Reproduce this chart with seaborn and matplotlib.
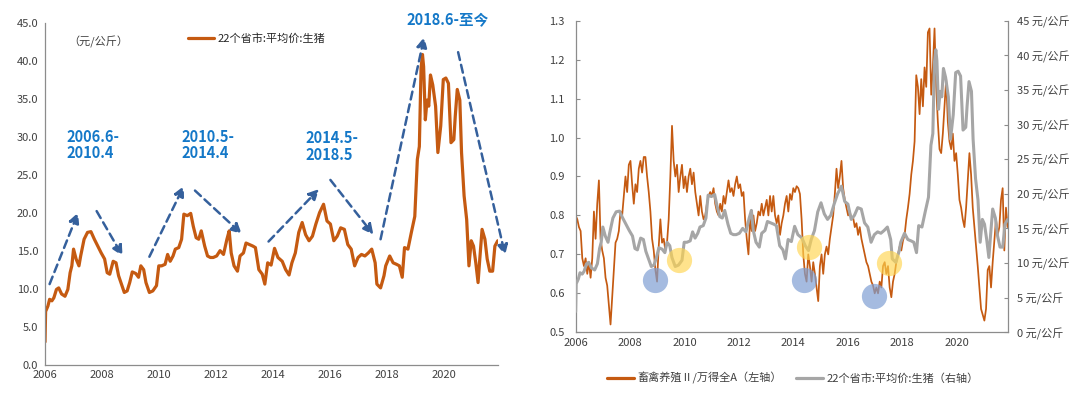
import numpy as np
import pandas as pd
import matplotlib
matplotlib.use("Agg")
import matplotlib.pyplot as plt
import seaborn as sns

# 22个省市:平均价:生猪 (元/公斤)
pig_year = [2006.00, 2006.02, 2006.10, 2006.16, 2006.24, 2006.31, 2006.40, 2006.48, 2006.58, 2006.70,
            2006.80, 2006.88, 2006.94, 2007.00, 2007.09, 2007.19, 2007.25, 2007.37, 2007.49, 2007.61,
            2007.73, 2007.85, 2007.97, 2008.09, 2008.18, 2008.27, 2008.39, 2008.49, 2008.58, 2008.70,
            2008.78, 2008.88, 2008.97, 2009.06, 2009.18, 2009.28, 2009.36, 2009.46, 2009.54, 2009.66,
            2009.78, 2009.91, 2009.99, 2010.09, 2010.21, 2010.30, 2010.39, 2010.49, 2010.57, 2010.69,
            2010.79, 2010.87, 2010.99, 2011.11, 2011.20, 2011.30, 2011.39, 2011.48, 2011.60, 2011.70,
            2011.80, 2011.90, 2012.02, 2012.14, 2012.26, 2012.38, 2012.46, 2012.53, 2012.63, 2012.75,
            2012.84, 2012.96, 2013.05, 2013.17, 2013.29, 2013.38, 2013.50, 2013.62, 2013.71, 2013.81,
            2013.93, 2014.05, 2014.17, 2014.32, 2014.44, 2014.56, 2014.66, 2014.78, 2014.90, 2015.02,
            2015.14, 2015.26, 2015.38, 2015.50, 2015.63, 2015.77, 2015.89, 2016.01, 2016.13, 2016.25,
            2016.37, 2016.50, 2016.62, 2016.74, 2016.86, 2016.98, 2017.10, 2017.22, 2017.34, 2017.46,
            2017.58, 2017.64, 2017.77, 2017.89, 2017.95, 2018.09, 2018.21, 2018.33, 2018.43, 2018.53,
            2018.61, 2018.73, 2018.85, 2018.97, 2019.06, 2019.13, 2019.19, 2019.24, 2019.28, 2019.34,
            2019.40, 2019.46, 2019.52, 2019.60, 2019.70, 2019.78, 2019.88, 2019.97, 2020.06, 2020.15,
            2020.24, 2020.34, 2020.39, 2020.46, 2020.55, 2020.61, 2020.70, 2020.79, 2020.87, 2020.95,
            2021.03, 2021.11, 2021.19, 2021.25, 2021.33, 2021.43, 2021.51, 2021.60, 2021.70, 2021.78,
            2021.88]
pig_price = [3.0, 7.0, 7.7, 8.6, 8.4, 8.8, 9.9, 10.1, 9.3, 9.0,
             9.9, 12.1, 13.0, 15.2, 13.9, 13.0, 14.3, 16.5, 17.4, 17.5,
             16.5, 15.6, 14.7, 13.9, 12.1, 11.9, 13.6, 13.4, 11.7, 10.4,
             9.5, 9.7, 10.8, 12.2, 12.0, 11.5, 13.0, 12.5, 10.8, 9.5,
             9.7, 10.4, 13.0, 13.0, 13.2, 14.5, 13.6, 14.3, 15.2, 15.4,
             16.5, 19.8, 19.6, 19.9, 18.2, 16.7, 16.5, 17.6, 15.6, 14.3,
             14.1, 14.1, 14.3, 15.0, 14.5, 16.5, 17.6, 14.7, 13.0, 12.3,
             14.3, 14.7, 16.0, 15.8, 15.6, 15.4, 12.5, 11.9, 10.6, 13.4,
             13.1, 15.3, 14.1, 13.6, 12.5, 11.8, 13.4, 14.7, 17.4, 18.7,
             17.1, 16.3, 16.9, 18.5, 20.0, 21.1, 18.9, 18.5, 16.3, 16.9,
             18.0, 17.8, 15.8, 15.2, 13.0, 14.1, 14.5, 14.3, 14.7, 15.2,
             13.4, 10.6, 10.1, 11.7, 13.0, 14.3, 13.4, 13.2, 13.0, 11.5,
             15.4, 15.2, 17.4, 19.5, 27.0, 28.7, 39.0, 40.8, 39.2, 32.2,
             34.8, 34.0, 38.1, 36.8, 34.0, 27.9, 31.4, 37.5, 37.7, 37.0,
             29.2, 29.6, 32.7, 36.2, 34.8, 27.9, 22.2, 19.1, 13.0, 16.3,
             15.6, 13.4, 10.8, 13.9, 17.8, 16.5, 13.9, 12.3, 12.3, 15.6,
             16.3]

# 畜禽养殖Ⅱ/万得全A, sampled about every 22 days from 2006 to late 2021
ratio_vals = [0.80, 0.79, 0.77, 0.76, 0.69, 0.67, 0.69, 0.65, 0.68, 0.64,
              0.69, 0.81, 0.74, 0.83, 0.89, 0.74, 0.71, 0.69, 0.64, 0.62,
              0.57, 0.52, 0.59, 0.66, 0.73, 0.74, 0.76, 0.81, 0.80, 0.85,
              0.90, 0.86, 0.93, 0.94, 0.88, 0.83, 0.88, 0.86, 0.92, 0.94,
              0.91, 0.95, 0.95, 0.90, 0.86, 0.81, 0.74, 0.71, 0.66, 0.63,
              0.72, 0.79, 0.73, 0.74, 0.71, 0.73, 0.79, 0.90, 1.03, 0.94,
              0.90, 0.93, 0.86, 0.90, 0.93, 0.87, 0.90, 0.86, 0.90, 0.92,
              0.88, 0.91, 0.86, 0.83, 0.80, 0.85, 0.81, 0.79, 0.80, 0.83,
              0.85, 0.86, 0.85, 0.87, 0.83, 0.81, 0.80, 0.83, 0.81, 0.85,
              0.83, 0.86, 0.89, 0.86, 0.87, 0.85, 0.88, 0.90, 0.87, 0.88,
              0.85, 0.86, 0.79, 0.74, 0.70, 0.79, 0.76, 0.80, 0.76, 0.78,
              0.81, 0.80, 0.83, 0.80, 0.82, 0.84, 0.80, 0.85, 0.81, 0.85,
              0.80, 0.78, 0.80, 0.75, 0.78, 0.80, 0.83, 0.85, 0.81,
              0.855, 0.84, 0.87, 0.86, 0.875, 0.87, 0.855, 0.79, 0.70, 0.65,
              0.63, 0.70, 0.67, 0.63, 0.68, 0.65, 0.615, 0.58, 0.67, 0.70,
              0.65, 0.70, 0.72, 0.70, 0.74, 0.77, 0.80, 0.855, 0.92, 0.87,
              0.90, 0.94, 0.87, 0.84, 0.82, 0.80, 0.81, 0.79, 0.795, 0.77,
              0.78, 0.75, 0.77, 0.74, 0.72, 0.70, 0.68, 0.67, 0.65, 0.63,
              0.62, 0.60, 0.615, 0.60, 0.63, 0.615, 0.67, 0.68, 0.65, 0.67,
              0.615, 0.59, 0.63, 0.65, 0.68, 0.70, 0.72, 0.71, 0.735, 0.75,
              0.79, 0.82, 0.855, 0.905, 0.94, 0.99, 1.16, 1.13, 1.06, 1.15,
              1.08, 1.18, 1.13, 1.27, 1.28, 1.11, 1.18, 1.28, 1.13, 1.04,
              0.97, 0.96, 1.01, 1.08, 1.15, 1.04, 0.99, 0.97, 1.01, 0.94,
              0.96, 0.905, 0.84, 0.82, 0.79, 0.77, 0.82, 0.89, 0.96, 0.905,
              0.82, 0.77, 0.72, 0.67, 0.615, 0.56, 0.545, 0.53, 0.56, 0.66,
              0.67, 0.615, 0.68, 0.735, 0.79, 0.75, 0.77,
              0.84, 0.87, 0.71, 0.82, 0.77]
ratio_year = np.linspace(2006.0, 2021.88, len(ratio_vals))

year_ticks = list(range(2006, 2021, 2))
pig_ticks = list(range(0, 46, 5))
ratio_ticks = [0.5, 0.6, 0.7, 0.8, 0.9, 1.0, 1.1, 1.2, 1.3]

# phase notes and trend arrows on the left panel
phase_text = ["2006.6-\n2010.4", "2010.5-\n2014.4", "2014.5-\n2018.5", "2018.6-至今"]
phase_xy = [(2006.76, 28.9), (2010.78, 28.9), (2015.12, 28.7), (2018.67, 45.4)]
trend_arrows = [((2006.16, 10.6), (2007.16, 20.0)), ((2007.81, 20.2), (2008.72, 14.3)),
                ((2009.66, 14.2), (2010.87, 23.5)), ((2011.26, 22.9), (2012.90, 17.2)),
                ((2013.84, 16.2), (2015.61, 23.1)), ((2016.01, 24.3), (2017.52, 17.1)),
                ((2017.77, 16.5), (2019.30, 43.1)), ((2020.49, 41.1), (2022.14, 14.4))]

# highlight circles on the right panel (ratio axis)
blue_marks = [(2008.92, 0.633), (2014.39, 0.634), (2016.96, 0.592)]
yellow_marks = [(2009.80, 0.686), (2014.58, 0.718), (2017.53, 0.677)]

ORANGE = "#C55A11"
GRAY = "#A6A6A6"
AXIS = "#8C8C8C"
TXT = "#404040"
NOTE = "#1478C8"
ARROW = "#35609C"

sns.set_style("white")
plt.rcParams["font.family"] = ["Noto Sans CJK SC", "DejaVu Sans"]
plt.rcParams["axes.unicode_minus"] = False

fig = plt.figure(figsize=(10.8, 3.93), dpi=100)

# ---- left panel ----
ax1 = fig.add_axes([0.0417, 0.072, 0.4197, 0.8707])
pig = pd.DataFrame({"year": pig_year, "price": pig_price})
sns.lineplot(data=pig, x="year", y="price", ax=ax1, color=ORANGE, lw=2.3, legend=False)
ax1.set_xlim(2006, 2021.9)
ax1.set_ylim(0, 45)
ax1.set_xticks(year_ticks)
ax1.set_yticks(pig_ticks)
ax1.set_yticklabels([f"{v:.1f}" for v in pig_ticks])
ax1.set_xlabel("")
ax1.set_ylabel("")
for s in ["top", "right"]:
    ax1.spines[s].set_visible(False)
for s in ["left", "bottom"]:
    ax1.spines[s].set_color(AXIS)
    ax1.spines[s].set_linewidth(0.9)
ax1.tick_params(direction="in", length=3, width=0.8, color=AXIS, labelsize=8, labelcolor=TXT)
ax1.tick_params(axis="y", pad=5)
ax1.tick_params(axis="x", pad=4)

ax1.legend([ax1.lines[0]], ["22个省市:平均价:生猪"], loc="center left", bbox_to_anchor=(0.315, 0.952),
           frameon=False, fontsize=8, handlelength=2.4, handletextpad=0.3, borderaxespad=0, borderpad=0)
ax1.text(0.052, 0.944, "（元/公斤）", transform=ax1.transAxes, fontsize=8, color=TXT, va="center")

for (x0, y0), (x1, y1) in trend_arrows:
    ax1.annotate("", xy=(x1, y1), xytext=(x0, y0), annotation_clip=False,
                 arrowprops=dict(arrowstyle="-|>,head_length=0.6,head_width=0.3", lw=1.8,
                                 linestyle=(0, (3.2, 2.0)), color=ARROW, shrinkA=0, shrinkB=0))
for txt, (tx, ty) in zip(phase_text, phase_xy):
    ax1.text(tx, ty, txt, fontsize=10.5, fontweight="bold", color=NOTE, va="center", ha="left",
             linespacing=1.05, clip_on=False)

# ---- right panel ----
ax2 = fig.add_axes([0.533, 0.1545, 0.4, 0.7929])
ratio = pd.DataFrame({"year": ratio_year, "ratio": ratio_vals})
sns.lineplot(data=ratio, x="year", y="ratio", ax=ax2, color=ORANGE, lw=1.25, legend=False)
ax2.set_xlim(2006, 2021.88)
ax2.set_ylim(0.5, 1.3)
ax2.set_xticks(year_ticks)
ax2.set_yticks(ratio_ticks)
ax2.set_yticklabels([f"{v:.1f}" for v in ratio_ticks])
ax2.set_xlabel("")
ax2.set_ylabel("")

ax3 = ax2.twinx()
sns.lineplot(data=pig, x="year", y="price", ax=ax3, color=GRAY, lw=2.2, legend=False)
ax3.set_ylim(0, 45)
ax3.set_yticks(pig_ticks)
ax3.set_yticklabels([f"{v} 元/公斤" for v in pig_ticks])
ax3.set_ylabel("")
ax3.set_xlim(2006, 2021.88)

for s in ["top", "right"]:
    ax2.spines[s].set_visible(False)
for s in ["left", "bottom"]:
    ax2.spines[s].set_color(AXIS)
    ax2.spines[s].set_linewidth(0.9)
for s in ["top", "left", "bottom"]:
    ax3.spines[s].set_visible(False)
ax3.spines["right"].set_color(AXIS)
ax3.spines["right"].set_linewidth(0.9)
ax2.tick_params(direction="in", length=3, width=0.8, color=AXIS, labelsize=8, labelcolor=TXT)
ax2.tick_params(axis="y", pad=8)
ax2.tick_params(axis="x", pad=4)
ax3.tick_params(direction="in", length=3, width=0.8, color=AXIS, labelsize=8, labelcolor=TXT, pad=7)

# highlight circles, placed in ratio units but drawn above both lines
bx, by = zip(*blue_marks)
yx, yy = zip(*yellow_marks)
ax3.scatter(bx, by, s=330, color="#7F9FD3", alpha=0.7, linewidths=0, transform=ax2.transData, zorder=5)
ax3.scatter(yx, yy, s=330, color="#FFD54F", alpha=0.65, linewidths=0, transform=ax2.transData, zorder=5)

fig.legend([ax2.lines[0], ax3.lines[0]], ["畜禽养殖Ⅱ/万得全A（左轴）", "22个省市:平均价:生猪（右轴）"],
           loc="center", bbox_to_anchor=(0.734, 0.038), ncol=2, frameon=False, fontsize=8,
           handlelength=2.4, handletextpad=0.3, columnspacing=1.3, labelcolor=TXT)
for ln in fig.legends[0].get_lines():
    ln.set_linewidth(2.3)

fig.savefig("out.png", dpi=100)
